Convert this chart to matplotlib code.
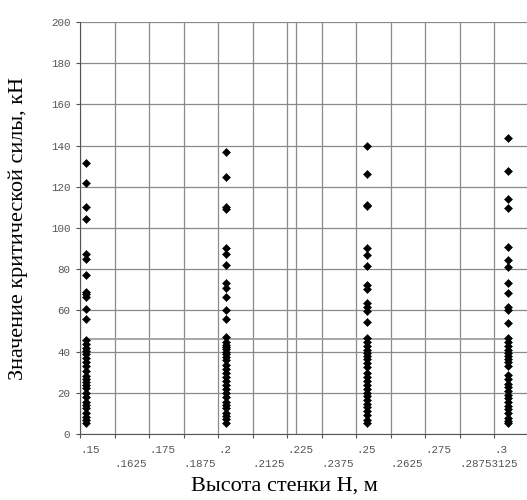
import matplotlib
matplotlib.use("Agg")
import matplotlib.pyplot as plt
import numpy as np

# ---- data ----
x_cols = [0.15206, 0.20276, 0.25393, 0.30487]

col1 = [131.4, 121.7, 110.3, 104.2, 87.4, 84.8, 77.2, 69.1, 67.8, 66.6, 60.5, 55.7,
        45.6, 43.5, 41.9, 40.3, 38.7, 37.0, 35.1, 33.0, 30.7, 28.2, 26.5, 25.4, 23.8,
        22.2, 20.1, 18.1, 15.7, 14.1, 12.5, 10.0, 8.4, 6.8, 5.2]
col2 = [137.0, 124.9, 110.3, 109.0, 90.1, 87.4, 82.0, 73.4, 70.7, 66.6, 60.2, 55.8,
        46.9, 44.8, 43.2, 42.1, 41.1, 40.0, 38.8, 37.5, 35.9, 33.5, 31.4, 29.5, 27.5,
        25.9, 23.8, 21.7, 19.7, 17.8, 15.7, 14.1, 12.5, 10.4, 8.7, 7.1, 5.2]
col3 = [140.0, 126.0, 111.2, 110.5, 90.3, 86.9, 81.5, 72.3, 70.2, 63.4, 61.5, 59.7, 54.5,
        46.4, 44.5, 42.5, 41.0, 39.5, 38.0, 36.5, 34.5, 32.7, 29.5, 27.5, 25.5, 24.0,
        22.0, 20.0, 18.5, 16.5, 14.5, 13.0, 11.0, 9.0, 7.0, 5.2]
col4 = [143.5, 127.8, 113.9, 109.9, 90.9, 84.5, 81.2, 73.1, 68.3, 61.5, 60.2, 54.0,
        46.8, 44.5, 42.5, 41.0, 39.5, 38.0, 36.5, 35.0, 33.2, 28.6, 26.5, 24.5, 23.0,
        21.0, 19.0, 17.5, 15.5, 13.5, 12.0, 10.0, 8.0, 6.5, 5.2]
columns = [col1, col2, col3, col4]

ref_level = 46.0
extra_vline = 0.2281

yticks = [0, 20, 40, 60, 80, 100, 120, 140, 160, 180, 200]
xticks_row1 = [0.15, 0.175, 0.2, 0.225, 0.25, 0.275, 0.3]
xlabels_row1 = [".15", ".175", ".2", ".225", ".25", ".275", ".3"]
xticks_row2 = [0.1625, 0.1875, 0.2125, 0.2375, 0.2625, 0.2875]
xlabels_row2 = [".1625", ".1875", ".2125", ".2375", ".2625", ".28753125"]

xlabel = "Высота стенки Н, м"
ylabel = "Значение критической силы, кН"

# ---- figure ----
W, H = 527, 500
fig = plt.figure(figsize=(W / 100, H / 100), dpi=100)
ax = fig.add_axes([80 / W, 1 - 434 / H, 447 / W, (434 - 22) / H])

grid_c = "#8a8a8a"
ax.set_xlim(0.15, 0.15 + 447 / 34.52 * 0.0125)
ax.set_ylim(0, 200)

for v in yticks:
    ax.axhline(v, color=grid_c, lw=0.9, zorder=1)
for v in xticks_row1 + xticks_row2 + [extra_vline]:
    ax.axvline(v, color=grid_c, lw=0.9, zorder=1)

ax.plot([x_cols[0], x_cols[-1]], [ref_level, ref_level], color="#a0a0a0", lw=1.3, zorder=2)

for xc, vals in zip(x_cols, columns):
    ax.plot([xc] * len(vals), vals, linestyle="none", marker="D", ms=3.9,
            color="black", mew=0.4, zorder=3)

for s in ["top", "right"]:
    ax.spines[s].set_visible(False)
ax.spines["left"].set_color("#555555")
ax.spines["bottom"].set_color("#555555")

mono = "Liberation Mono"
tick_c = "#555555"
ax.set_yticks(yticks)
ax.set_yticklabels([str(v) for v in yticks], fontfamily=mono, fontsize=7.8, color=tick_c)
ax.tick_params(axis="y", length=3, width=0.8, color=tick_c, pad=4)

ax.set_xticks(xticks_row1)
ax.set_xticklabels(xlabels_row1, fontfamily=mono, fontsize=7.8, color=tick_c, ha="left")
ax.set_xticks(xticks_row2, minor=True)
ax.set_xticklabels(xlabels_row2, minor=True, fontfamily=mono, fontsize=7.8, color=tick_c, ha="left")
ax.tick_params(axis="x", which="major", length=3, width=0.8, color=tick_c, pad=5)
ax.tick_params(axis="x", which="minor", length=3, width=0.8, color=tick_c, pad=15)

serif = "Liberation Serif"
fig.text(284 / W, 1 - 486 / H, xlabel, ha="center", va="center", fontfamily=serif, fontsize=16)
fig.text(18.5 / W, 1 - 228.5 / H, ylabel, ha="center", va="center", rotation=90,
         fontfamily=serif, fontsize=16)

fig.savefig("out.png", dpi=100)
